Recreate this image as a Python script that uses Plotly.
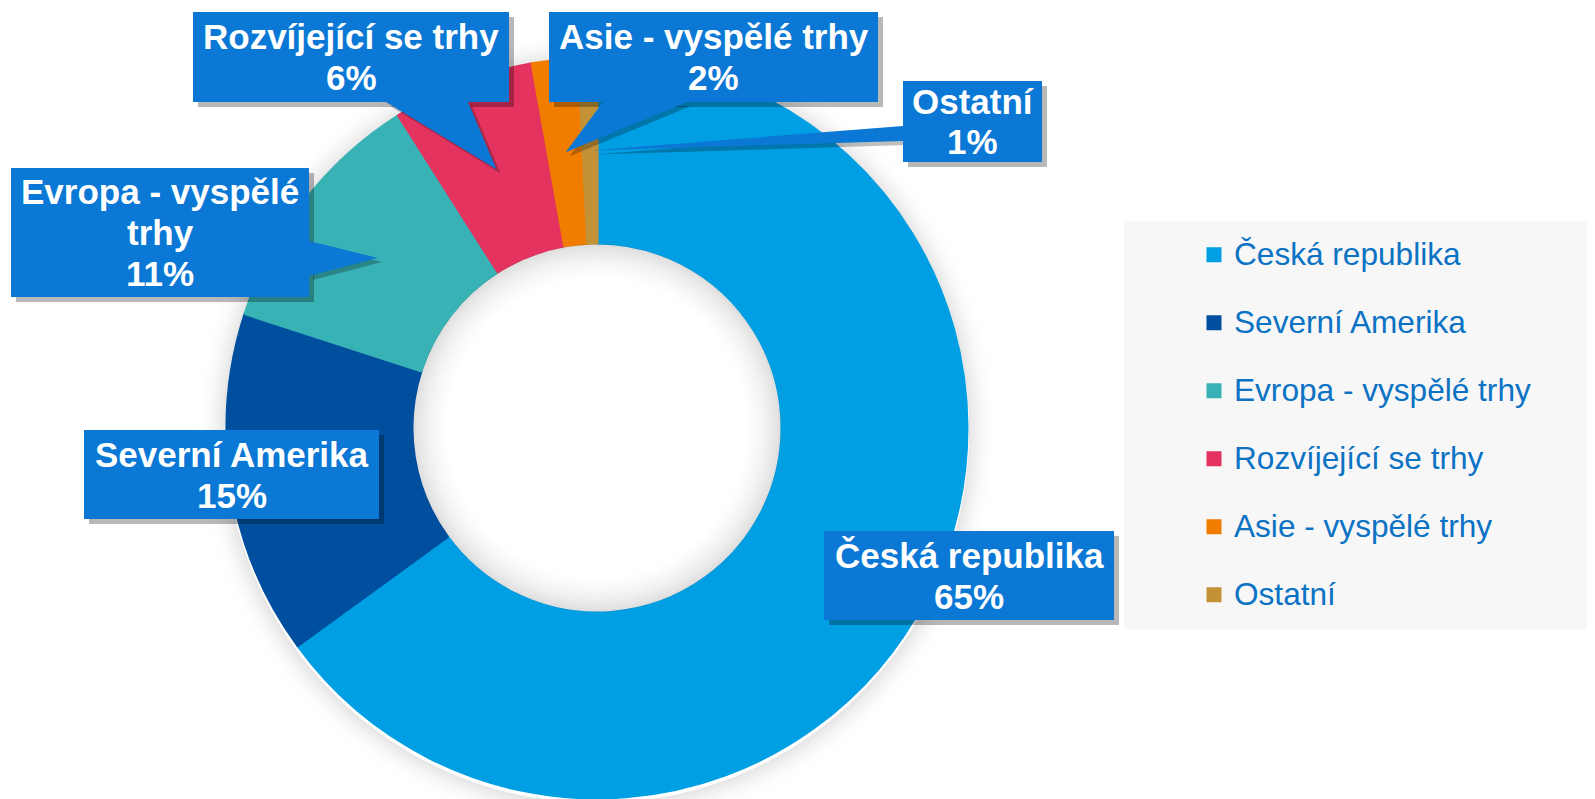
import math
import plotly.graph_objects as go

# ---------------- data ----------------
categories = ["Česká republika", "Severní Amerika", "Evropa - vyspělé trhy",
              "Rozvíjející se trhy", "Asie - vyspělé trhy", "Ostatní"]
shares = [65.0, 15.0, 11.0, 6.2, 2.0, 0.8]
callout_lines = [["Česká republika"], ["Severní Amerika"], ["Evropa - vyspělé", "trhy"],
                 ["Rozvíjející se trhy"], ["Asie - vyspělé trhy"], ["Ostatní"]]
colors = ["#009FE3", "#004F9F", "#38B2B5", "#E53360", "#F07D00", "#C39136"]

# ---------------- layout constants ----------------
PAGE_W, PAGE_H = 1595, 799
OFF = 8                       # default body margin of the html page
W, H = PAGE_W - OFF, PAGE_H - OFF
CX, CY, R = 597, 428, 370
HOLE = 0.5
BOX = "#0A78D4"
LEG_COLOR = "#0B72C4"
FONT = "Arial, Liberation Sans, sans-serif"
LINE_GAP = 41

# callout boxes (left, top, right, bottom) in page px
boxes = [(824, 531, 1114, 620), (84, 430, 379, 519), (11, 168, 309, 297),
         (193, 12, 509, 102), (549, 12, 878, 102), (903, 81, 1042, 162)]
# pointer base segments on the box edge (page px)
bases = [None, None, ((309, 241), (309, 276)), ((386, 102), (468, 102)),
         ((603, 102), (687, 102)), ((903, 126), (903, 141))]


def fx(x):
    return (x - OFF) / W


def fy(y):
    return 1 - (y - OFF) / H


total = sum(shares)
tips = []
cum = 0.0
for v in shares:
    a = (cum + v / 2) / total * 2 * math.pi
    rr = R * (1 + HOLE) / 2
    tips.append((CX + rr * math.sin(a), CY - rr * math.cos(a)))
    cum += v

legend_labels = [f"<span style='font-size:31.6px'>{c}</span><br>\u00a0" for c in categories]

fig = go.Figure()
fig.add_trace(go.Pie(
    labels=legend_labels, values=shares, sort=False, direction="clockwise", rotation=0,
    hole=HOLE, textinfo="none",
    marker=dict(colors=colors, line=dict(color=colors, width=3)),
    domain=dict(x=[fx(CX - R), fx(CX + R)], y=[fy(CY + R), fy(CY - R)]),
    hoverinfo="label+percent",
))

shapes = []
# legend background
shapes.append(dict(type="rect", xref="paper", yref="paper", x0=fx(1124), x1=1.0,
                   y0=fy(629), y1=fy(221), fillcolor="#F7F7F7", line=dict(width=0), layer="below"))
# outer soft shadow of the ring
for k in range(2, 30, 3):
    alpha = 0.11 * (1 - k / 30) ** 2
    rr = R + 1.5 + k
    shapes.append(dict(type="circle", xref="paper", yref="paper",
                       x0=fx(CX - rr), x1=fx(CX + rr), y0=fy(CY + 3 + rr), y1=fy(CY + 3 - rr),
                       line=dict(color=f"rgba(0,0,0,{alpha:.4f})", width=3), layer="below"))
# inner soft shadow inside the hole
Ri = R * HOLE - 1.5
for k in range(1, 42, 3):
    alpha = 0.13 * (1 - k / 42) ** 2
    rr = Ri - k
    shapes.append(dict(type="circle", xref="paper", yref="paper",
                       x0=fx(CX - rr), x1=fx(CX + rr), y0=fy(CY + rr), y1=fy(CY - rr),
                       line=dict(color=f"rgba(0,0,0,{alpha:.4f})", width=3), layer="above"))
# box shadows
for (l, t, r, b) in boxes:
    shapes.append(dict(type="rect", xref="paper", yref="paper",
                       x0=fx(l + 5), x1=fx(r + 5), y0=fy(b + 5), y1=fy(t + 5),
                       fillcolor="rgba(0,0,0,0.28)", line=dict(width=0), layer="above"))


def tri_path(p1, p2, tip, off=0):
    pts = [p1, p2, tip]
    return "M " + " L ".join(f"{fx(x + off)},{fy(y + off)}" for x, y in pts) + " Z"


# pointer shadows, then pointers, then boxes
for base, tip in zip(bases, tips):
    if base is None:
        continue
    shapes.append(dict(type="path", xref="paper", yref="paper",
                       path=tri_path(base[0], base[1], tip, off=4),
                       fillcolor="rgba(0,0,0,0.25)", line=dict(width=0), layer="above"))
for base, tip in zip(bases, tips):
    if base is None:
        continue
    shapes.append(dict(type="path", xref="paper", yref="paper",
                       path=tri_path(base[0], base[1], tip),
                       fillcolor=BOX, line=dict(width=0), layer="above"))
for (l, t, r, b) in boxes:
    shapes.append(dict(type="rect", xref="paper", yref="paper",
                       x0=fx(l), x1=fx(r), y0=fy(b), y1=fy(t),
                       fillcolor=BOX, line=dict(width=0), layer="above"))

annotations = []
for lines, v, (l, t, r, b) in zip(callout_lines, shares, boxes):
    pct = f"{v / total * 100:.0f}%"
    all_lines = lines + [pct]
    n = len(all_lines)
    cyb = (t + b) / 2
    for i, txt in enumerate(all_lines):
        yy = cyb + (i - (n - 1) / 2) * LINE_GAP
        annotations.append(dict(
            x=fx((l + r) / 2), y=fy(yy), xref="paper", yref="paper",
            xanchor="center", yanchor="middle", showarrow=False,
            text=f"<b>{txt}</b>", align="center",
            font=dict(family=FONT, size=35, color="white"),
        ))

fig.update_layout(
    width=W, height=H, margin=dict(l=0, r=0, t=0, b=0),
    paper_bgcolor="white", plot_bgcolor="white",
    showlegend=True,
    legend=dict(x=fx(1194), y=fy(232), xanchor="left", yanchor="top",
                bgcolor="rgba(0,0,0,0)", valign="top", itemwidth=30,
                font=dict(family=FONT, size=25, color=LEG_COLOR)),
    shapes=shapes, annotations=annotations,
)

fig.write_html("out.html")
